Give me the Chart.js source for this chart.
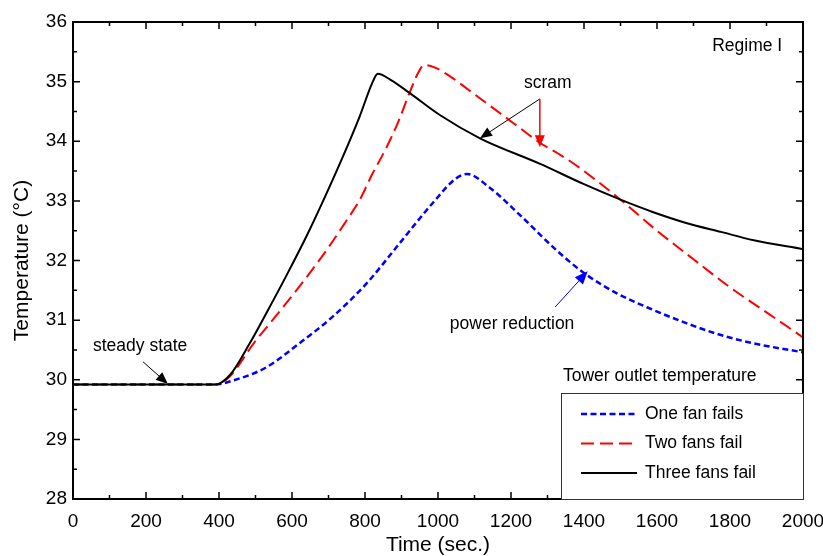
<!DOCTYPE html>
<html>
<head>
<meta charset="utf-8">
<script src="https://cdn.jsdelivr.net/npm/chart.js@4.4.1/dist/chart.umd.min.js"></script>
<style>
  html, body { margin: 0; padding: 0; background: #fff; }
  #wrap { width: 823px; height: 556px; }
</style>
</head>
<body>
<div id="wrap"><canvas id="tempChart" width="823" height="556"></canvas></div>
<script>
const FONT = "'Liberation Sans', Arial, sans-serif";

// One fan fails (time in s, temperature in °C)
const timeOne = [0, 390, 440, 530, 620, 710, 805, 895, 985, 1050, 1080, 1140, 1230, 1325, 1400, 1490, 1590, 1680, 1775, 1865, 2000];
const tempOne = [29.92, 29.92, 29.99, 30.21, 30.61, 31.05, 31.62, 32.29, 32.96, 33.38, 33.45, 33.23, 32.73, 32.17, 31.79, 31.45, 31.17, 30.95, 30.75, 30.61, 30.46];

// Two fans fail
const timeTwo = [0, 390, 430, 495, 560, 630, 700, 745, 785, 820, 855, 890, 920, 945, 962, 990, 1035, 1095, 1170, 1225, 1280, 1330, 1380, 1430, 1500, 1600, 1700, 1800, 1900, 2000];
const tempTwo = [29.92, 29.92, 30.06, 30.61, 31.10, 31.64, 32.22, 32.63, 33.01, 33.45, 33.85, 34.31, 34.78, 35.14, 35.28, 35.24, 35.08, 34.81, 34.47, 34.22, 33.97, 33.79, 33.59, 33.36, 33.02, 32.50, 32.02, 31.55, 31.13, 30.71];

// Three fans fail
const timeThree = [0, 390, 430, 485, 530, 585, 640, 695, 740, 785, 820, 835, 870, 920, 1005, 1115, 1280, 1400, 1500, 1590, 1680, 1775, 1865, 2000];
const tempThree = [29.92, 29.92, 30.08, 30.62, 31.12, 31.75, 32.41, 33.13, 33.75, 34.41, 34.98, 35.13, 35.03, 34.82, 34.44, 34.05, 33.62, 33.28, 33.02, 32.81, 32.63, 32.48, 32.34, 32.19];

// axis tick labels
const xTicks = [0, 200, 400, 600, 800, 1000, 1200, 1400, 1600, 1800, 2000];
const yTicks = [28, 29, 30, 31, 32, 33, 34, 35, 36];

const toPoints = (xs, ys) => xs.map((t, i) => ({ x: t, y: ys[i] }));

// inward tick marks and frame on all four sides
const framePlugin = {
    id: 'frame',
    afterDatasetsDraw(chart) {
        const { ctx, chartArea: a, scales: { x, y } } = chart;
        ctx.save();
        ctx.strokeStyle = '#000';
        ctx.lineWidth = 1.5;
        ctx.beginPath();
        const xStep = (xTicks[1] - xTicks[0]) / 2;
        for (let v = xTicks[0]; v <= xTicks[xTicks.length - 1]; v += xStep) {
            const px = x.getPixelForValue(v);
            const len = Math.round(v / xStep) % 2 === 0 ? 7 : 4;
            ctx.moveTo(px, a.bottom); ctx.lineTo(px, a.bottom - len);
            ctx.moveTo(px, a.top); ctx.lineTo(px, a.top + len);
        }
        const yStep = (yTicks[1] - yTicks[0]) / 2;
        for (let v = yTicks[0]; v <= yTicks[yTicks.length - 1] + 1e-6; v += yStep) {
            const py = y.getPixelForValue(v);
            const len = Math.round(v / yStep) % 2 === 0 ? 7 : 4;
            ctx.moveTo(a.left, py); ctx.lineTo(a.left + len, py);
            ctx.moveTo(a.right, py); ctx.lineTo(a.right - len, py);
        }
        ctx.stroke();
        ctx.lineWidth = 2;
        ctx.strokeRect(a.left, a.top, a.right - a.left, a.bottom - a.top);
        ctx.restore();
    }
};

function arrow(ctx, x1, y1, x2, y2, color, width, hl, hw) {
    const ang = Math.atan2(y2 - y1, x2 - x1);
    ctx.strokeStyle = color;
    ctx.fillStyle = color;
    ctx.lineWidth = width;
    ctx.beginPath();
    ctx.moveTo(x1, y1);
    ctx.lineTo(x2 - Math.cos(ang) * hl * 0.8, y2 - Math.sin(ang) * hl * 0.8);
    ctx.stroke();
    ctx.beginPath();
    ctx.moveTo(x2, y2);
    ctx.lineTo(x2 - Math.cos(ang) * hl - Math.sin(ang) * hw, y2 - Math.sin(ang) * hl + Math.cos(ang) * hw);
    ctx.lineTo(x2 - Math.cos(ang) * hl + Math.sin(ang) * hw, y2 - Math.sin(ang) * hl - Math.cos(ang) * hw);
    ctx.closePath();
    ctx.fill();
}

// text notes and arrows, placed in data units
const notesPlugin = {
    id: 'notes',
    afterDatasetsDraw(chart) {
        const { ctx, scales: { x, y } } = chart;
        const X = v => x.getPixelForValue(v);
        const Y = v => y.getPixelForValue(v);
        ctx.save();
        ctx.font = '17.5px ' + FONT;
        ctx.fillStyle = '#000';
        ctx.textAlign = 'center';
        ctx.textBaseline = 'middle';
        ctx.fillText('Regime I', X(1847), Y(35.60));
        ctx.fillText('scram', X(1301), Y(34.98));
        ctx.fillText('steady state', X(184), Y(30.56));
        ctx.fillText('power reduction', X(1203), Y(30.93));
        arrow(ctx, X(1279), Y(34.71), X(1115), Y(34.05), '#000', 1, 12, 5);
        arrow(ctx, X(1279), Y(34.71), X(1279), Y(33.90), '#ff0000', 1.5, 12, 5);
        arrow(ctx, X(1321), Y(31.22), X(1410), Y(31.82), '#0000ff', 1, 13, 5.5);
        arrow(ctx, X(192), Y(30.30), X(260), Y(29.93), '#000', 1, 12, 5);
        ctx.restore();
    }
};

// legend box in the lower right corner of the plot
const legendPlugin = {
    id: 'boxLegend',
    afterDatasetsDraw(chart) {
        const { ctx, chartArea: a } = chart;
        const left = a.right - 242, top = a.bottom - 106;
        ctx.save();
        ctx.fillStyle = '#fff';
        ctx.fillRect(left, top, a.right - left, a.bottom - top);
        ctx.strokeStyle = '#333';
        ctx.lineWidth = 1;
        ctx.strokeRect(left + 0.5, top + 0.5, a.right - left, a.bottom - top);
        ctx.font = '17.5px ' + FONT;
        ctx.fillStyle = '#000';
        ctx.textBaseline = 'middle';
        ctx.fillText('Tower outlet temperature', left + 2, top - 17);
        chart.data.datasets.forEach((ds, i) => {
            const ry = top + 21 + i * 29.5;
            ctx.strokeStyle = ds.borderColor;
            ctx.lineWidth = ds.borderWidth;
            ctx.setLineDash(ds.borderDash || []);
            ctx.beginPath();
            ctx.moveTo(left + 20, ry);
            ctx.lineTo(left + 76, ry);
            ctx.stroke();
            ctx.setLineDash([]);
            ctx.fillStyle = '#000';
            ctx.fillText(ds.label, left + 84, ry);
        });
        ctx.restore();
    }
};

const ctx = document.getElementById('tempChart').getContext('2d');
const tempChart = new Chart(ctx, {
    type: 'line',
    data: {
        datasets: [{
            label: 'One fan fails',
            data: toPoints(timeOne, tempOne),
            borderColor: '#0000ff',
            borderWidth: 2.5,
            borderDash: [6, 3.5],
            order: 2
        }, {
            label: 'Two fans fail',
            data: toPoints(timeTwo, tempTwo),
            borderColor: '#ff0000',
            borderWidth: 2,
            borderDash: [13, 6],
            order: 1
        }, {
            label: 'Three fans fail',
            data: toPoints(timeThree, tempThree),
            borderColor: '#000000',
            borderWidth: 2,
            order: 0
        }]
    },
    options: {
        responsive: false,
        animation: false,
        layout: { padding: { left: 0, right: 20, top: 22, bottom: 0 } },
        elements: {
            point: { radius: 0 },
            line: { cubicInterpolationMode: 'monotone', fill: false }
        },
        plugins: {
            legend: { display: false },
            tooltip: { enabled: false }
        },
        scales: {
            x: {
                type: 'linear',
                min: 0,
                max: 2000,
                afterBuildTicks: s => { s.ticks = xTicks.map(v => ({ value: v })); },
                afterFit: s => { s.height = 57; s.paddingLeft = 0; s.paddingRight = 0; },
                grid: { display: false, drawTicks: false },
                border: { display: false },
                ticks: {
                    color: '#000', font: { family: FONT, size: 19 }, padding: 11, maxRotation: 0, autoSkip: false,
                    callback: v => String(v)
                },
                title: { display: true, text: 'Time (sec.)', color: '#000', font: { family: FONT, size: 21 }, padding: { top: 0, bottom: -2 } }
            },
            y: {
                type: 'linear',
                min: 28,
                max: 36,
                afterBuildTicks: s => { s.ticks = yTicks.map(v => ({ value: v })); },
                afterFit: s => { s.width = 73; s.paddingTop = 0; s.paddingBottom = 0; },
                grid: { display: false, drawTicks: false },
                border: { display: false },
                ticks: { color: '#000', font: { family: FONT, size: 19 }, padding: 6, callback: v => String(v) },
                title: { display: true, text: 'Temperature (°C)', color: '#000', font: { family: FONT, size: 21 }, padding: { top: 10, bottom: 0 } }
            }
        }
    },
    plugins: [framePlugin, notesPlugin, legendPlugin]
});
</script>
</body>
</html>
